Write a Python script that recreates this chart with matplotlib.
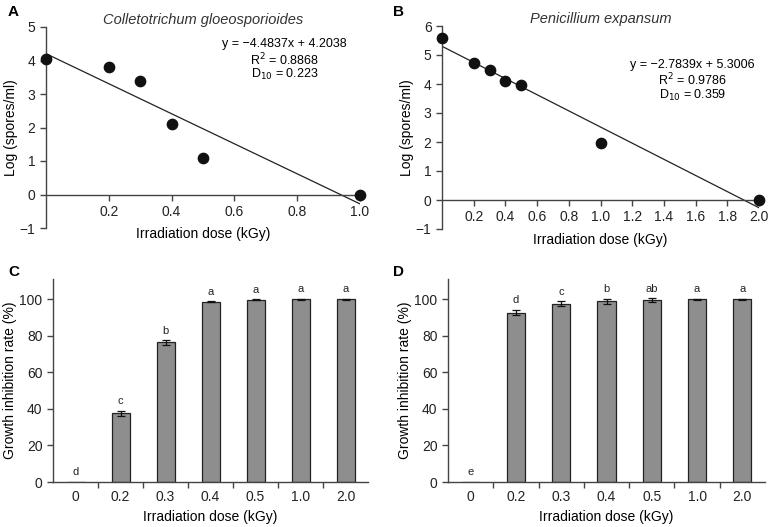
import numpy as np
import matplotlib
matplotlib.use("Agg")
import matplotlib.pyplot as plt

plt.rcParams['font.family'] = ['Liberation Sans', 'DejaVu Sans']
plt.rcParams['font.size'] = 10

# survival curves (A, B)
dose_a = [0, 0.2, 0.3, 0.4, 0.5, 1.0]
log_a = [4.05, 3.82, 3.38, 2.10, 1.10, 0.0]
fit_a = (-4.4837, 4.2038)
dose_b = [0, 0.2, 0.3, 0.4, 0.5, 1.0, 2.0]
log_b = [5.58, 4.72, 4.47, 4.10, 3.97, 1.95, 0.0]
fit_b = (-2.7839, 5.3006)

# inhibition rates (C, D)
doses = ['0', '0.2', '0.3', '0.4', '0.5', '1.0', '2.0']
inhib_c = [0, 37.5, 76.3, 98.5, 99.7, 99.8, 99.9]
err_c = [0, 1.5, 1.2, 0.3, 0.3, 0.3, 0.3]
lett_c = ['d', 'c', 'b', 'a', 'a', 'a', 'a']
inhib_d = [0, 92.6, 97.5, 98.8, 99.3, 99.8, 99.8]
err_d = [0, 1.5, 1.2, 1.5, 1.1, 0.3, 0.3]
lett_d = ['e', 'd', 'c', 'b', 'ab', 'a', 'a']

ax_col = '#444444'
W, H = 774, 527

fig = plt.figure(figsize=(7.74, 5.27), dpi=100)


def px_axes(l, t, r, b):
    return fig.add_axes([l / W, 1 - b / H, (r - l) / W, (b - t) / H])


def style(ax):
    for s in ['top', 'right']:
        ax.spines[s].set_visible(False)
    for s in ['left', 'bottom']:
        ax.spines[s].set_color(ax_col)
        ax.spines[s].set_linewidth(1.0)
    ax.tick_params(colors=ax_col, labelcolor='#222222', length=4, width=1)


def survival(ax, x, y, fit, xmax, xticks, ymax, title, eq, r2, d10, tx, ty):
    style(ax)
    ax.spines['bottom'].set_position(('data', 0))
    ax.scatter(x, y, s=55, color='#111111', zorder=3, clip_on=False)
    xs = np.array([0, xmax])
    ax.plot(xs, fit[0] * xs + fit[1], color='#222222', lw=0.9)
    ax.set_xlim(0, xmax)
    ax.set_ylim(-1, ymax)
    ax.set_xticks(xticks)
    ax.set_xticklabels([f'{v:.1f}' for v in xticks])
    ax.set_yticks(range(-1, ymax + 1))
    ax.set_yticklabels([str(v).replace('-', '\u2212') for v in range(-1, ymax + 1)])
    ax.set_ylabel('Log (spores/ml)', labelpad=1)
    ax.set_xlabel('Irradiation dose (kGy)', labelpad=6)
    ax.set_title(title, fontstyle='italic', fontsize=10.5, pad=2, color='#333333')
    ax.text(tx, ty, eq, transform=ax.transAxes, ha='center', va='center', fontsize=9)
    ax.text(tx, ty - 0.078, r2, transform=ax.transAxes, ha='center', va='center', fontsize=9)
    ax.text(tx, ty - 0.152, d10, transform=ax.transAxes, ha='center', va='center', fontsize=9)


def bars(ax, vals, errs, letters):
    style(ax)
    x = np.arange(len(vals))
    ax.bar(x, vals, width=0.4, color='#8e8e8e', edgecolor='#222222', lw=0.9)
    ax.errorbar(x[1:], vals[1:], yerr=errs[1:], fmt='none', ecolor='#111111',
                elinewidth=0.9, capsize=3, capthick=0.9)
    for xi, v, e, l in zip(x, vals, errs, letters):
        ax.text(xi, v + e + 2.5, l, ha='center', va='bottom', fontsize=8, color='#222222')
    ax.set_xlim(-0.5, len(vals) - 0.5)
    ax.set_ylim(0, 111)
    ax.set_yticks(range(0, 101, 20))
    ax.set_xticks(x)
    ax.set_xticklabels(doses)
    ax.set_xticks(np.arange(0.5, len(vals) - 0.5), minor=True)
    ax.tick_params(axis='x', which='major', length=0, pad=6)
    ax.tick_params(axis='x', which='minor', length=4, width=1, colors=ax_col)
    ax.set_ylabel('Growth inhibition rate (%)', labelpad=2)
    ax.set_xlabel('Irradiation dose (kGy)', labelpad=4)


axA = px_axes(46, 27, 360, 228)
survival(axA, dose_a, log_a, fit_a, 1.0, [0.2, 0.4, 0.6, 0.8, 1.0], 5,
         'Colletotrichum gloeosporioides',
         'y = \u22124.4837x + 4.2038', 'R$^{2}$ = 0.8868', 'D$_{10}$ = 0.223', 0.76, 0.915)

axB = px_axes(442, 26, 759, 229)
survival(axB, dose_b, log_b, fit_b, 2.0, [0.2 * i for i in range(1, 11)], 6,
         'Penicillium expansum',
         'y = \u22122.7839x + 5.3006', 'R$^{2}$ = 0.9786', 'D$_{10}$ = 0.359', 0.79, 0.81)

axC = px_axes(53, 279, 368, 482)
bars(axC, inhib_c, err_c, lett_c)
axD = px_axes(448, 279, 765, 482)
bars(axD, inhib_d, err_d, lett_d)

for lbl, (xp, yp) in zip('ABCD', [(8, 12), (393, 12), (8, 272), (393, 272)]):
    fig.text(xp / W, 1 - yp / H, lbl, fontweight='bold', fontsize=11, va='center', ha='left')

fig.savefig('out.png', dpi=100)
